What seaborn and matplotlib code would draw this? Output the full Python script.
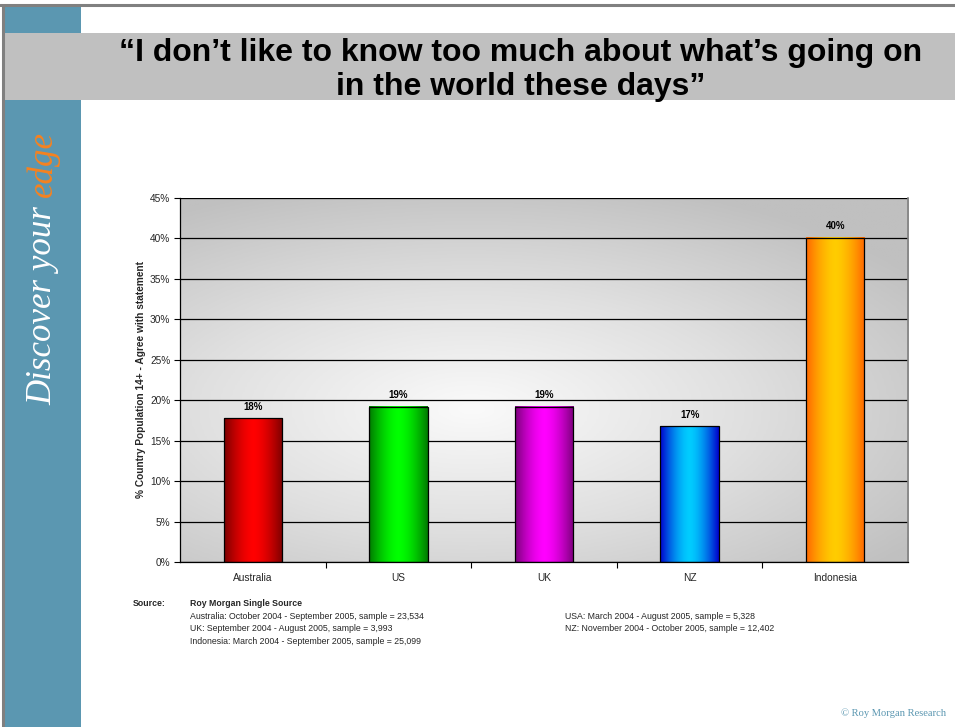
import numpy as np
import pandas as pd
import matplotlib
matplotlib.use("Agg")
import matplotlib.pyplot as plt
from matplotlib.colors import LinearSegmentedColormap
from matplotlib.patches import Rectangle
import seaborn as sns

# ---- data ----
countries = ["Australia", "US", "UK", "NZ", "Indonesia"]
agree_pct = [17.8, 19.2, 19.2, 16.8, 40.1]
edge_colors = ["#7a0000", "#007a00", "#7a007a", "#0000cc", "#ff6600"]
center_colors = ["#ff0000", "#00ff00", "#ff00ff", "#00ccff", "#ffcc00"]
y_ticks = [0, 5, 10, 15, 20, 25, 30, 35, 40, 45]

source_left = [
    "Australia: October 2004 - September 2005, sample = 23,534",
    "UK: September 2004 - August 2005, sample = 3,993",
    "Indonesia: March 2004 - September 2005, sample = 25,099",
]
source_right = [
    "USA: March 2004 - August 2005, sample = 5,328",
    "NZ: November 2004 - October 2005, sample = 12,402",
]

sns.set_theme(style="white")
plt.rcParams["font.family"] = ["Liberation Sans", "DejaVu Sans"]

W, H = 955, 727
fig = plt.figure(figsize=(W / 100, H / 100), dpi=100)
fig.patch.set_facecolor("white")

def fx(px):
    return px / W

def fy(py):
    return 1 - py / H

# ---- slide frame ----
sidebar_blue = "#5b97b1"
fig.add_artist(Rectangle((fx(3), 0), fx(78), fy(6), transform=fig.transFigure,
                         facecolor=sidebar_blue, edgecolor="none", zorder=0))
fig.add_artist(Rectangle((fx(3), fy(100)), 1, fy(33) - fy(100), transform=fig.transFigure,
                         facecolor="#c0c0c0", edgecolor="none", zorder=1))
fig.add_artist(plt.Line2D([0, 1], [fy(5), fy(5)], transform=fig.transFigure,
                          color="#808080", lw=2.2, zorder=3))
fig.add_artist(plt.Line2D([fx(3), fx(3)], [0, fy(5)], transform=fig.transFigure,
                          color="#808080", lw=2.2, zorder=3))

fig.text(fx(521), fy(70), "\u201cI don\u2019t like to know too much about what\u2019s going on\nin the world these days\u201d",
         ha="center", va="center", fontsize=23, fontweight="bold", color="black",
         linespacing=1.18, zorder=4)

# sidebar tagline, reading bottom to top
tag_font = dict(fontsize=25.1, style="italic", family=["Liberation Serif", "DejaVu Serif"])
t1 = fig.text(fx(43), fy(405), "Discover your ", rotation=90, rotation_mode="anchor",
              ha="left", va="center", color="white", zorder=4, **tag_font)
fig.canvas.draw()
bb = t1.get_window_extent(fig.canvas.get_renderer())
fig.text(fx(43), bb.y1 / fig.dpi / fig.get_figheight(), "edge", rotation=90,
         rotation_mode="anchor", ha="left", va="center", color="#f58220", zorder=4,
         **tag_font)

fig.text(fx(946), fy(713), "\u00a9 Roy Morgan Research", ha="right", va="center",
         fontsize=7.6, family=["Liberation Serif", "DejaVu Serif"], color=sidebar_blue)

# ---- chart ----
ax = fig.add_axes([fx(180), fy(562), fx(908) - fx(180), fy(198) - fy(562)])
df = pd.DataFrame({"country": countries, "pct": agree_pct})
sns.barplot(data=df, x="country", y="pct", width=0.4, color="white", ax=ax,
            edgecolor="black", linewidth=0.9, zorder=3)
ax.set_ylim(0, 45)
ax.set_xlim(-0.5, 4.5)

# shaded plot-area background
gx, gy = np.meshgrid(np.linspace(0, 1, 300), np.linspace(0, 1, 300))
r = np.sqrt(((gx - 0.40) / 0.75) ** 2 + ((gy - 0.42) / 0.65) ** 2)
bg = np.clip(r, 0, 1)
bg_cmap = LinearSegmentedColormap.from_list("bg", ["#fafafa", "#e0e0e0", "#c0c0c0"])
ax.imshow(bg, cmap=bg_cmap, extent=[0, 1, 0, 1], transform=ax.transAxes,
          aspect="auto", origin="lower", zorder=0, interpolation="bilinear")
ax.set_facecolor("#c0c0c0")

# gradient fill for each bar
xs = np.linspace(-1, 1, 200)
prof = 1 - np.abs(xs) ** 1.6
for patch, c_edge, c_mid in zip(ax.patches, edge_colors, center_colors):
    x0, w, h = patch.get_x(), patch.get_width(), patch.get_height()
    cmap = LinearSegmentedColormap.from_list("bar", [c_edge, c_mid])
    ax.imshow(prof[np.newaxis, :], cmap=cmap, vmin=0, vmax=1, aspect="auto",
              extent=[x0, x0 + w, 0, h], zorder=2.5, interpolation="bilinear")
    patch.set_facecolor("none")

for i, v in enumerate(agree_pct):
    ax.text(i, v + 0.8, f"{v:.0f}%", ha="center", va="bottom", fontsize=7,
            fontweight="bold", color="black", zorder=4)

ax.set_axisbelow(True)
ax.yaxis.grid(True, color="black", lw=0.9)
ax.xaxis.grid(False)
ax.set_yticks(y_ticks)
ax.set_yticklabels([f"{t}%" for t in y_ticks], fontsize=7.3)
ax.set_xticks(range(len(countries)))
ax.set_xticklabels(countries, fontsize=7.3)
ax.set_xticks(np.arange(0.5, 4.5, 1.0), minor=True)
ax.tick_params(axis="y", which="major", length=4, width=0.8, color="black",
               direction="out", left=True, pad=3)
ax.tick_params(axis="x", which="major", length=0, pad=8)
ax.tick_params(axis="x", which="minor", length=4, width=0.8, color="black",
               direction="out", bottom=True)
ax.set_xlabel("")
ax.set_ylabel("% Country Population 14+ - Agree with statement", fontsize=7.3,
              fontweight="bold", labelpad=3)
for s in ["left", "bottom"]:
    ax.spines[s].set_visible(True)
    ax.spines[s].set_color("black")
    ax.spines[s].set_linewidth(0.9)
ax.spines["top"].set_visible(False)
ax.spines["right"].set_color("#808080")
ax.spines["right"].set_linewidth(1.2)

# ---- source notes ----
src_fs = 6.3
fig.text(fx(133), fy(604), "Source:", fontsize=src_fs, fontweight="bold", va="center")
fig.text(fx(190), fy(604), "Roy Morgan Single Source", fontsize=src_fs, fontweight="bold", va="center")
for k, line in enumerate(source_left):
    fig.text(fx(190), fy(616.5 + 12.3 * k), line, fontsize=src_fs, va="center")
for k, line in enumerate(source_right):
    fig.text(fx(565), fy(616.5 + 12.3 * k), line, fontsize=src_fs, va="center")

fig.savefig("out.png", dpi=100, facecolor="white")
